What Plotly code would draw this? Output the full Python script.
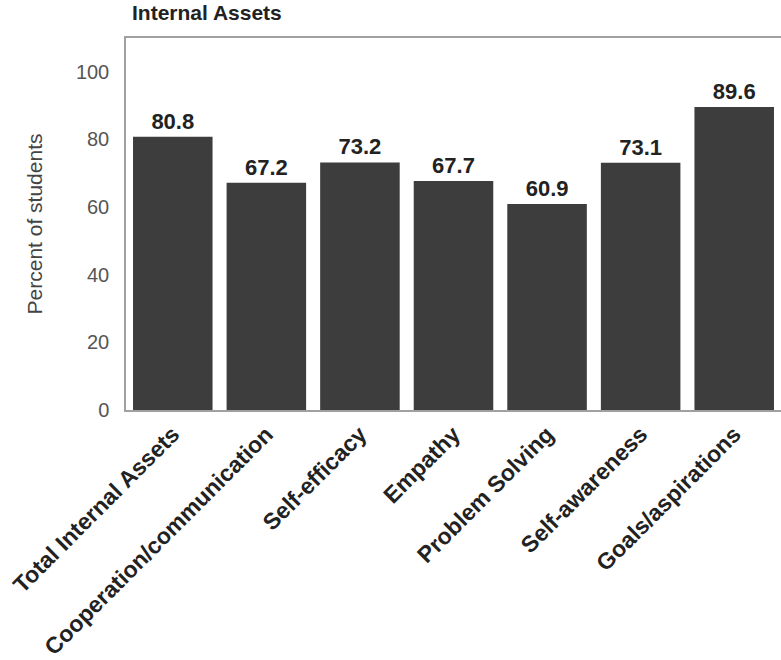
import plotly.graph_objects as go

categories = ["Total Internal Assets", "Cooperation/communication", "Self-efficacy",
              "Empathy", "Problem Solving", "Self-awareness", "Goals/aspirations"]
values = [80.8, 67.2, 73.2, 67.7, 60.9, 73.1, 89.6]
y_ticks = [0, 20, 40, 60, 80, 100]

FONT = "Liberation Sans, Arial"

fig = go.Figure(go.Bar(
    x=categories, y=values,
    marker=dict(color="#3d3d3d", line=dict(width=0)),
    text=[f"{v:.1f}" for v in values],
    textposition="outside",
    textfont=dict(family=FONT, size=22, color="#222222"),
    texttemplate="<b>%{text}</b>",
    cliponaxis=False,
))

fig.update_layout(
    width=781, height=660,
    margin=dict(l=126, r=0, t=38, b=250, autoexpand=False),
    paper_bgcolor="white", plot_bgcolor="white",
    bargap=0.15,
    showlegend=False,
    font=dict(family=FONT, color="#444444"),
    title=dict(text="<b>Internal Assets</b>", x=132/781, xanchor="left",
               y=1-13/660, yanchor="middle",
               font=dict(size=21, color="#222222")),
)
fig.update_xaxes(
    tickangle=-45,
    tickfont=dict(size=23, color="#222222", family=FONT),
    tickprefix="<b>", ticksuffix="</b>",
    showline=True, linecolor="#a0a0a0", linewidth=1.5, mirror=True,
    ticks="", showgrid=False, automargin=False,
)
fig.update_yaxes(
    range=[0, 110], tickvals=y_ticks,
    tickfont=dict(size=20, color="#555555"),
    ticklabelstandoff=11,
    title=dict(text="Percent of students", font=dict(size=21, color="#444444"), standoff=28),
    showline=True, linecolor="#a0a0a0", linewidth=1.5, mirror=True,
    ticks="", showgrid=False, zeroline=False, automargin=False,
)

fig.write_html("out.html", config={"displayModeBar": False},
               post_script="document.body.style.margin='0';")
